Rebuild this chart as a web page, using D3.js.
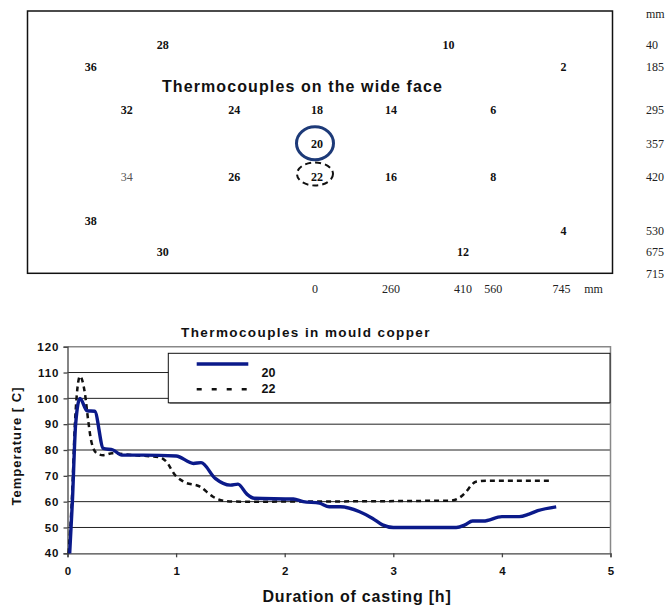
<!DOCTYPE html>
<html><head><meta charset="utf-8">
<script src="https://cdn.jsdelivr.net/npm/d3@7"></script>
<style>body{margin:0;background:#fff}svg{display:block}</style>
</head><body>
<svg id="c" width="671" height="607"></svg>
<script>
// ---------- data ----------
// thermocouple map (position in mm on the wide face)
const tcIds  = ["28","10","36","2","32","24","18","14","6","20","34","26","22","16","8","38","4","30","12"];
const tcXmm  = [-470,380,-700,745,-560,-260,0,260,560,0,-560,-260,0,260,560,-700,745,-470,410];
const tcYmm  = [40,40,185,185,295,295,295,295,295,357,420,420,420,420,420,510,530,675,675];
const tcBold = [1,1,1,1,1,1,1,1,1,1,0,1,1,1,1,1,1,1,1];
const rowLabels = [40,185,295,357,420,530,675,715];
const colLabels = [0,260,410,560,745];
const highlightSolid = "20";
const highlightDashed = "22";

// mould copper temperatures
const seriesNames = ["20","22"];
const time20 = [0.02,0.045,0.075,0.115,0.18,0.25,0.33,0.42,0.5,0.7,1.0,1.16,1.23,1.36,1.5,1.57,1.65,1.72,2.08,2.17,2.32,2.41,2.51,2.69,2.81,2.9,3.0,3.58,3.66,3.73,3.83,4.0,4.16,4.25,4.33,4.5];
const temp20 = [40,60,90,100,95.2,95,80.6,80,78,78,77.7,74.8,75.1,69,66.4,66.8,63,61.3,61,60,59.4,58,58,56.1,53.5,51,50,50,51,52.5,52.5,54.2,54.2,55.2,56.5,58];
const time22 = [0.01,0.04,0.07,0.115,0.16,0.19,0.22,0.27,0.33,0.41,0.6,0.85,0.91,0.99,1.07,1.22,1.34,1.46,1.6,3.52,3.6,3.67,3.72,3.76,3.86,4.44];
const temp22 = [40,60.6,91.6,108.6,102,91.6,83.2,78.7,78,78.7,78,77.2,75.5,70.3,67.7,65.8,61.9,60.2,60,60.4,61.3,63.8,66.4,67.7,68.1,68.1];
const xTicks = [0,1,2,3,4,5];
const yTicks = [40,50,60,70,80,90,100,110,120];

// ---------- drawing ----------
const svg = d3.select("#c");
const serif = "'Liberation Serif','Times New Roman',serif";
const sans = "'Liberation Sans',Arial,sans-serif";

// top diagram
const mx = d3.scaleLinear().domain([-700,-560,-470,-260,0,260,410,560,745])
  .range([90.7,126.7,162.7,234.3,315,391,463,493.3,563.5]);
const my = d3.scaleLinear().domain([40,185,295,357,420,530,675,715])
  .range([45,67,110,143.3,176.5,230.7,251.7,273.3]);

svg.append("rect").attr("x",27.5).attr("y",11).attr("width",585).attr("height",my(715)-11)
  .attr("fill","none").attr("stroke","#111").attr("stroke-width",1.5);

svg.append("text").attr("x",302.5).attr("y",91.5).attr("text-anchor","middle")
  .attr("font-family",sans).attr("font-weight","bold").attr("font-size",16).attr("letter-spacing",1.1)
  .attr("fill","#111").text("Thermocouples on the wide face");

const tcs = tcIds.map((id,i)=>({id,x:tcXmm[i],y:tcYmm[i],b:tcBold[i]}));
svg.append("g").selectAll("text").data(tcs).join("text")
  .attr("x",d=>mx(d.x)+(d.x===0?2:0)).attr("y",d=>my(d.y)).attr("dy","0.35em")
  .attr("text-anchor","middle").attr("font-family",serif).attr("font-size",12)
  .attr("font-weight",d=>d.b?"bold":"normal").attr("fill",d=>d.b?"#111":"#555")
  .text(d=>d.id);

const hs = tcs.find(d=>d.id===highlightSolid), hd = tcs.find(d=>d.id===highlightDashed);
svg.append("ellipse").attr("cx",mx(hs.x)).attr("cy",my(hs.y)).attr("rx",18.5).attr("ry",16.5)
  .attr("fill","none").attr("stroke","#1d3a78").attr("stroke-width",3);
svg.append("ellipse").attr("cx",mx(hd.x)).attr("cy",my(hd.y)-2.5).attr("rx",18).attr("ry",11.5)
  .attr("fill","none").attr("stroke","#111").attr("stroke-width",2).attr("stroke-dasharray","6,4");

svg.append("text").attr("x",646).attr("y",14).attr("dy","0.35em").attr("font-family",serif)
  .attr("font-size",12).attr("fill","#222").text("mm");
svg.append("g").selectAll("text").data(rowLabels).join("text")
  .attr("x",646).attr("y",d=>my(d)).attr("dy","0.35em").attr("font-family",serif)
  .attr("font-size",12).attr("fill","#222").text(d=>d);
svg.append("g").selectAll("text").data(colLabels).join("text")
  .attr("x",d=>mx(d)-(d===745?2:0)).attr("y",288.5).attr("dy","0.35em").attr("text-anchor","middle")
  .attr("font-family",serif).attr("font-size",12).attr("fill","#222").text(d=>d);
svg.append("text").attr("x",593.5).attr("y",288.5).attr("dy","0.35em").attr("text-anchor","middle")
  .attr("font-family",serif).attr("font-size",12).attr("fill","#222").text("mm");

// chart
const L=67.5, R=610.5, T=346.7, B=553.3;
const x = d3.scaleLinear().domain([0,5]).range([L,R]);
const y = d3.scaleLinear().domain([40,120]).range([B,T]);

svg.append("text").attr("x",306).attr("y",337).attr("text-anchor","middle")
  .attr("font-family",sans).attr("font-weight","bold").attr("font-size",13.5).attr("letter-spacing",1.4)
  .attr("fill","#111").text("Thermocouples in mould copper");

// gridlines
svg.append("g").selectAll("line").data(yTicks.filter(v=>v>40&&v<120)).join("line")
  .attr("x1",L).attr("x2",R).attr("y1",d=>y(d)).attr("y2",d=>y(d))
  .attr("stroke","#222").attr("stroke-width",1);
// frame top/right
svg.append("path").attr("d",`M${L},${T}H${R}V${B}`).attr("fill","none").attr("stroke","#888").attr("stroke-width",1.5);

// axes
const xa = svg.append("g").attr("transform",`translate(0,${B})`)
  .call(d3.axisBottom(x).tickValues(xTicks).tickSize(4).tickPadding(10).tickFormat(d3.format("d")));
const ya = svg.append("g").attr("transform",`translate(${L},0)`)
  .call(d3.axisLeft(y).tickValues(yTicks).tickSize(4).tickPadding(4));
[xa,ya].forEach(g=>{
  g.select(".domain").attr("stroke","#444").attr("stroke-width",1.3);
  g.selectAll(".tick line").attr("stroke","#444").attr("stroke-width",1.3);
  g.selectAll(".tick text").attr("font-family",sans).attr("font-weight","bold")
   .attr("font-size",11.5).attr("fill","#111");
});
ya.selectAll(".tick text").attr("letter-spacing",1);

svg.append("text").attr("transform","translate(21,446) rotate(-90)").attr("text-anchor","middle")
  .attr("font-family",sans).attr("font-weight","bold").attr("font-size",13).attr("letter-spacing",1)
  .attr("fill","#111").text("Temperature [ C]");
svg.append("text").attr("x",357).attr("y",602).attr("text-anchor","middle")
  .attr("font-family",sans).attr("font-weight","bold").attr("font-size",16).attr("letter-spacing",0.8)
  .attr("fill","#111").text("Duration of casting [h]");

// legend
svg.append("rect").attr("x",169.5).attr("y",354.5).attr("width",441).attr("height",49.5).attr("fill","#999");
svg.append("rect").attr("x",168.3).attr("y",353.3).attr("width",441.7).attr("height",49.5)
  .attr("fill","#fff").attr("stroke","#111").attr("stroke-width",1);
svg.append("line").attr("x1",196.7).attr("x2",248.3).attr("y1",364).attr("y2",364)
  .attr("stroke","#0b1a8a").attr("stroke-width",3.5);
svg.append("line").attr("x1",196.7).attr("x2",248.3).attr("y1",389.3).attr("y2",389.3)
  .attr("stroke","#111").attr("stroke-width",2.5).attr("stroke-dasharray","5,10");
svg.append("text").attr("x",261.5).attr("y",377).attr("font-family",sans).attr("font-weight","bold")
  .attr("font-size",12.5).attr("fill","#111").text(seriesNames[0]);
svg.append("text").attr("x",261.5).attr("y",393).attr("font-family",sans).attr("font-weight","bold")
  .attr("font-size",12.5).attr("fill","#111").text(seriesNames[1]);

// lines
const line = d3.line().x(d=>x(d[0])).y(d=>y(d[1])).curve(d3.curveMonotoneX);
svg.append("path").datum(time22.map((t,i)=>[t,temp22[i]])).attr("d",line)
  .attr("fill","none").attr("stroke","#111").attr("stroke-width",2.5).attr("stroke-dasharray","5,4");
svg.append("path").datum(time20.map((t,i)=>[t,temp20[i]])).attr("d",line)
  .attr("fill","none").attr("stroke","#0b1a8a").attr("stroke-width",3.4).attr("stroke-linejoin","round");
</script>
</body></html>
